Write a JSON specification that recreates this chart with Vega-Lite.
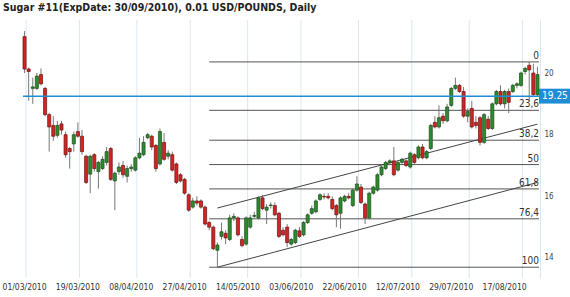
{
  "$schema": "https://vega.github.io/schema/vega-lite/v6.json",
  "width": 518,
  "height": 258,
  "autosize": {"type": "none"},
  "padding": {"left": 22, "top": 20, "right": 30, "bottom": 19},
  "background": "white",
  "title": {"text": "Sugar #11(ExpDate: 30/09/2010), 0.01 USD/POUNDS, Daily", "anchor": "start", "frame": "group", "font": "DejaVu Sans Condensed", "fontSize": 10.5, "fontWeight": "bold", "color": "#222222", "baseline": "alphabetic", "offset": 8, "dx": -19, "dy": 9.5},
  "config": {"view": {"stroke": null}},
  "datasets": {
    "candles": [
      {"d":"01/03/2010","o":21.18,"h":21.36,"l":20.0,"c":20.13},
      {"d":"02/03/2010","o":20.13,"h":20.18,"l":19.1,"c":20.05},
      {"d":"03/03/2010","o":19.5,"h":19.85,"l":19.0,"c":19.55},
      {"d":"04/03/2010","o":19.5,"h":20.0,"l":19.45,"c":19.9},
      {"d":"05/03/2010","o":19.95,"h":20.15,"l":19.6,"c":19.65},
      {"d":"09/03/2010","o":19.5,"h":19.55,"l":18.6,"c":18.65},
      {"d":"10/03/2010","o":18.65,"h":18.7,"l":17.45,"c":18.25},
      {"d":"11/03/2010","o":18.3,"h":18.6,"l":17.8,"c":17.95},
      {"d":"12/03/2010","o":17.98,"h":18.45,"l":17.9,"c":18.3},
      {"d":"15/03/2010","o":18.35,"h":18.45,"l":18.0,"c":18.15},
      {"d":"16/03/2010","o":18.0,"h":18.1,"l":17.25,"c":17.35},
      {"d":"17/03/2010","o":17.55,"h":17.6,"l":16.9,"c":17.45},
      {"d":"18/03/2010","o":17.7,"h":18.1,"l":17.45,"c":18.0},
      {"d":"19/03/2010","o":18.1,"h":18.4,"l":17.9,"c":17.95},
      {"d":"22/03/2010","o":17.95,"h":18.15,"l":17.35,"c":17.45},
      {"d":"23/03/2010","o":17.3,"h":17.35,"l":16.4,"c":16.45},
      {"d":"24/03/2010","o":16.72,"h":17.35,"l":16.1,"c":17.3},
      {"d":"25/03/2010","o":17.35,"h":17.4,"l":16.8,"c":16.9},
      {"d":"26/03/2010","o":16.8,"h":17.15,"l":16.25,"c":17.1},
      {"d":"29/03/2010","o":16.9,"h":17.3,"l":16.85,"c":17.2},
      {"d":"30/03/2010","o":17.1,"h":17.6,"l":17.0,"c":17.45},
      {"d":"31/03/2010","o":17.55,"h":17.6,"l":16.5,"c":16.55},
      {"d":"01/04/2010","o":16.5,"h":16.8,"l":15.55,"c":16.75},
      {"d":"05/04/2010","o":16.8,"h":17.1,"l":16.7,"c":16.95},
      {"d":"06/04/2010","o":17.0,"h":17.15,"l":16.6,"c":16.7},
      {"d":"07/04/2010","o":16.65,"h":17.0,"l":16.45,"c":16.9},
      {"d":"08/04/2010","o":16.9,"h":17.05,"l":16.8,"c":16.95},
      {"d":"09/04/2010","o":16.85,"h":17.3,"l":16.8,"c":17.25},
      {"d":"12/04/2010","o":17.25,"h":17.9,"l":17.2,"c":17.4},
      {"d":"13/04/2010","o":17.35,"h":17.95,"l":17.3,"c":17.75},
      {"d":"14/04/2010","o":17.9,"h":18.05,"l":17.85,"c":18.0},
      {"d":"15/04/2010","o":17.95,"h":18.0,"l":17.5,"c":17.6},
      {"d":"16/04/2010","o":17.65,"h":17.7,"l":16.8,"c":16.9},
      {"d":"19/04/2010","o":17.05,"h":18.2,"l":17.0,"c":18.1},
      {"d":"20/04/2010","o":17.75,"h":18.05,"l":17.15,"c":17.2},
      {"d":"21/04/2010","o":17.3,"h":17.5,"l":17.2,"c":17.4},
      {"d":"22/04/2010","o":17.35,"h":17.45,"l":16.8,"c":16.85},
      {"d":"23/04/2010","o":17.05,"h":17.1,"l":16.4,"c":16.45},
      {"d":"26/04/2010","o":16.7,"h":16.75,"l":16.45,"c":16.5},
      {"d":"27/04/2010","o":16.55,"h":16.6,"l":16.05,"c":16.1},
      {"d":"28/04/2010","o":16.05,"h":16.1,"l":15.5,"c":15.55},
      {"d":"29/04/2010","o":15.65,"h":15.95,"l":15.6,"c":15.85},
      {"d":"30/04/2010","o":15.85,"h":16.0,"l":15.7,"c":15.78},
      {"d":"03/05/2010","o":15.85,"h":15.9,"l":15.6,"c":15.65},
      {"d":"04/05/2010","o":15.65,"h":15.7,"l":15.05,"c":15.1},
      {"d":"05/05/2010","o":15.15,"h":15.2,"l":14.9,"c":15.0},
      {"d":"06/05/2010","o":15.0,"h":15.05,"l":14.25,"c":14.3},
      {"d":"07/05/2010","o":14.25,"h":14.5,"l":13.7,"c":14.42},
      {"d":"10/05/2010","o":14.7,"h":15.15,"l":14.6,"c":14.85},
      {"d":"11/05/2010","o":14.8,"h":14.9,"l":14.45,"c":14.65},
      {"d":"12/05/2010","o":14.6,"h":15.4,"l":14.55,"c":15.3},
      {"d":"13/05/2010","o":15.3,"h":15.45,"l":15.2,"c":15.35},
      {"d":"14/05/2010","o":15.3,"h":15.35,"l":14.7,"c":14.75},
      {"d":"17/05/2010","o":14.6,"h":14.7,"l":14.35,"c":14.4},
      {"d":"18/05/2010","o":14.45,"h":15.35,"l":14.4,"c":15.3},
      {"d":"19/05/2010","o":15.0,"h":15.4,"l":14.95,"c":15.3},
      {"d":"20/05/2010","o":15.35,"h":15.5,"l":15.3,"c":15.38},
      {"d":"21/05/2010","o":15.3,"h":16.0,"l":15.25,"c":15.95},
      {"d":"24/05/2010","o":15.95,"h":16.05,"l":15.55,"c":15.6},
      {"d":"25/05/2010","o":15.55,"h":15.75,"l":15.1,"c":15.65},
      {"d":"26/05/2010","o":15.7,"h":15.8,"l":15.6,"c":15.72},
      {"d":"27/05/2010","o":15.7,"h":15.8,"l":15.35,"c":15.4},
      {"d":"28/05/2010","o":15.45,"h":15.5,"l":14.65,"c":14.7},
      {"d":"01/06/2010","o":14.9,"h":15.0,"l":14.7,"c":14.75},
      {"d":"02/06/2010","o":15.0,"h":15.1,"l":14.35,"c":14.5},
      {"d":"03/06/2010","o":14.45,"h":14.65,"l":14.4,"c":14.6},
      {"d":"04/06/2010","o":14.5,"h":14.95,"l":14.45,"c":14.9},
      {"d":"07/06/2010","o":14.88,"h":15.0,"l":14.65,"c":14.7},
      {"d":"08/06/2010","o":14.75,"h":15.2,"l":14.7,"c":15.15},
      {"d":"09/06/2010","o":15.15,"h":15.45,"l":15.1,"c":15.4},
      {"d":"10/06/2010","o":15.45,"h":15.7,"l":15.4,"c":15.6},
      {"d":"11/06/2010","o":15.5,"h":15.9,"l":15.45,"c":15.85},
      {"d":"14/06/2010","o":15.9,"h":16.1,"l":15.85,"c":16.05},
      {"d":"15/06/2010","o":16.0,"h":16.1,"l":15.9,"c":15.98},
      {"d":"16/06/2010","o":16.0,"h":16.1,"l":15.9,"c":15.95},
      {"d":"17/06/2010","o":15.9,"h":16.0,"l":15.55,"c":15.6},
      {"d":"18/06/2010","o":15.7,"h":15.75,"l":15.0,"c":15.4},
      {"d":"21/06/2010","o":15.45,"h":16.0,"l":14.95,"c":15.95},
      {"d":"22/06/2010","o":15.85,"h":16.05,"l":15.8,"c":16.0},
      {"d":"23/06/2010","o":16.0,"h":16.1,"l":15.9,"c":15.95},
      {"d":"24/06/2010","o":15.7,"h":16.25,"l":15.65,"c":16.2},
      {"d":"25/06/2010","o":16.2,"h":16.65,"l":16.15,"c":16.4},
      {"d":"28/06/2010","o":16.3,"h":16.4,"l":15.75,"c":15.8},
      {"d":"29/06/2010","o":15.75,"h":15.8,"l":15.1,"c":15.3},
      {"d":"30/06/2010","o":15.3,"h":16.15,"l":15.25,"c":16.1},
      {"d":"01/07/2010","o":16.1,"h":16.35,"l":16.05,"c":16.3},
      {"d":"02/07/2010","o":16.2,"h":16.75,"l":16.15,"c":16.7},
      {"d":"06/07/2010","o":16.7,"h":17.0,"l":16.65,"c":16.95},
      {"d":"07/07/2010","o":16.9,"h":17.15,"l":16.85,"c":17.1},
      {"d":"08/07/2010","o":17.1,"h":17.2,"l":17.05,"c":17.15},
      {"d":"09/07/2010","o":17.15,"h":17.6,"l":16.65,"c":16.7},
      {"d":"12/07/2010","o":16.85,"h":17.15,"l":16.8,"c":17.1},
      {"d":"13/07/2010","o":17.1,"h":17.25,"l":17.05,"c":17.2},
      {"d":"14/07/2010","o":17.15,"h":17.2,"l":16.95,"c":17.0},
      {"d":"15/07/2010","o":16.95,"h":17.45,"l":16.9,"c":17.4},
      {"d":"16/07/2010","o":17.35,"h":17.4,"l":17.05,"c":17.1},
      {"d":"19/07/2010","o":17.25,"h":17.65,"l":17.2,"c":17.6},
      {"d":"20/07/2010","o":17.6,"h":17.7,"l":17.2,"c":17.25},
      {"d":"21/07/2010","o":17.25,"h":17.5,"l":17.2,"c":17.45},
      {"d":"22/07/2010","o":17.55,"h":18.35,"l":17.5,"c":18.3},
      {"d":"23/07/2010","o":18.4,"h":18.6,"l":18.2,"c":18.25},
      {"d":"26/07/2010","o":18.25,"h":18.95,"l":18.2,"c":18.55},
      {"d":"27/07/2010","o":18.6,"h":18.7,"l":18.35,"c":18.45},
      {"d":"28/07/2010","o":18.45,"h":19.0,"l":18.4,"c":18.9},
      {"d":"29/07/2010","o":18.95,"h":19.55,"l":18.9,"c":19.5},
      {"d":"30/07/2010","o":19.5,"h":19.85,"l":19.45,"c":19.6},
      {"d":"02/08/2010","o":19.6,"h":19.65,"l":19.35,"c":19.4},
      {"d":"03/08/2010","o":19.4,"h":19.55,"l":18.55,"c":18.6},
      {"d":"04/08/2010","o":18.6,"h":18.85,"l":18.4,"c":18.75},
      {"d":"05/08/2010","o":18.85,"h":19.1,"l":18.2,"c":18.25},
      {"d":"06/08/2010","o":18.4,"h":18.6,"l":18.2,"c":18.3},
      {"d":"09/08/2010","o":18.55,"h":18.6,"l":17.65,"c":17.75},
      {"d":"10/08/2010","o":17.75,"h":18.7,"l":17.7,"c":18.65},
      {"d":"11/08/2010","o":18.5,"h":18.6,"l":18.15,"c":18.2},
      {"d":"12/08/2010","o":18.2,"h":19.05,"l":18.15,"c":19.0},
      {"d":"13/08/2010","o":19.0,"h":19.45,"l":18.95,"c":19.4},
      {"d":"16/08/2010","o":19.4,"h":19.6,"l":18.95,"c":19.0},
      {"d":"17/08/2010","o":19.0,"h":19.45,"l":18.85,"c":19.4},
      {"d":"18/08/2010","o":19.4,"h":19.5,"l":18.7,"c":19.05},
      {"d":"19/08/2010","o":19.4,"h":19.65,"l":19.35,"c":19.6},
      {"d":"20/08/2010","o":19.6,"h":19.7,"l":19.5,"c":19.65},
      {"d":"23/08/2010","o":19.6,"h":20.05,"l":19.55,"c":20.0},
      {"d":"24/08/2010","o":20.05,"h":20.2,"l":19.95,"c":20.15},
      {"d":"25/08/2010","o":20.25,"h":20.36,"l":19.1,"c":20.1},
      {"d":"26/08/2010","o":20.0,"h":20.3,"l":19.25,"c":19.3},
      {"d":"27/08/2010","o":19.3,"h":20.2,"l":19.25,"c":19.95}
    ],
    "grid": [
      {"d":"01/03/2010"},{"d":"19/03/2010"},{"d":"09/04/2010"},{"d":"28/04/2010"},{"d":"18/05/2010"},
      {"d":"07/06/2010"},{"d":"25/06/2010"},{"d":"15/07/2010"},{"d":"04/08/2010"},{"d":"23/08/2010"}
    ],
    "fib": [
      {"lv":"0","p":20.36,"d":"05/05/2010","d2":"27/08/2010"},
      {"lv":"23,6","p":18.79,"d":"05/05/2010","d2":"27/08/2010"},
      {"lv":"38,2","p":17.82,"d":"05/05/2010","d2":"27/08/2010"},
      {"lv":"50","p":17.03,"d":"05/05/2010","d2":"27/08/2010"},
      {"lv":"61,8","p":16.24,"d":"05/05/2010","d2":"27/08/2010"},
      {"lv":"76,4","p":15.27,"d":"05/05/2010","d2":"27/08/2010"},
      {"lv":"100","p":13.70,"d":"05/05/2010","d2":"27/08/2010"}
    ],
    "trend": [
      {"g":"up","d":"07/05/2010","p":15.62},
      {"g":"up","d":"27/08/2010","p":18.34},
      {"g":"lo","d":"07/05/2010","p":13.70},
      {"g":"lo","d":"27/08/2010","p":16.45}
    ],
    "last": [
      {"d":"01/03/2010","d2":"27/08/2010","p":19.25,"t":"19.25"}
    ]
  },
  "layer": [
    {
      "data": {"name": "grid"},
      "mark": {"type": "rule", "color": "#dce7f0", "strokeWidth": 1},
      "encoding": {
        "x": {
          "field": "d", "type": "ordinal", "bandPosition": 1,
          "scale": {
            "type": "band",
            "domain": ["01/03/2010","02/03/2010","03/03/2010","04/03/2010","05/03/2010","09/03/2010","10/03/2010","11/03/2010","12/03/2010","15/03/2010","16/03/2010","17/03/2010","18/03/2010","19/03/2010","22/03/2010","23/03/2010","24/03/2010","25/03/2010","26/03/2010","29/03/2010","30/03/2010","31/03/2010","01/04/2010","05/04/2010","06/04/2010","07/04/2010","08/04/2010","09/04/2010","12/04/2010","13/04/2010","14/04/2010","15/04/2010","16/04/2010","19/04/2010","20/04/2010","21/04/2010","22/04/2010","23/04/2010","26/04/2010","27/04/2010","28/04/2010","29/04/2010","30/04/2010","03/05/2010","04/05/2010","05/05/2010","06/05/2010","07/05/2010","10/05/2010","11/05/2010","12/05/2010","13/05/2010","14/05/2010","17/05/2010","18/05/2010","19/05/2010","20/05/2010","21/05/2010","24/05/2010","25/05/2010","26/05/2010","27/05/2010","28/05/2010","01/06/2010","02/06/2010","03/06/2010","04/06/2010","07/06/2010","08/06/2010","09/06/2010","10/06/2010","11/06/2010","14/06/2010","15/06/2010","16/06/2010","17/06/2010","18/06/2010","21/06/2010","22/06/2010","23/06/2010","24/06/2010","25/06/2010","28/06/2010","29/06/2010","30/06/2010","01/07/2010","02/07/2010","06/07/2010","07/07/2010","08/07/2010","09/07/2010","12/07/2010","13/07/2010","14/07/2010","15/07/2010","16/07/2010","19/07/2010","20/07/2010","21/07/2010","22/07/2010","23/07/2010","26/07/2010","27/07/2010","28/07/2010","29/07/2010","30/07/2010","02/08/2010","03/08/2010","04/08/2010","05/08/2010","06/08/2010","09/08/2010","10/08/2010","11/08/2010","12/08/2010","13/08/2010","16/08/2010","17/08/2010","18/08/2010","19/08/2010","20/08/2010","23/08/2010","24/08/2010","25/08/2010","26/08/2010","27/08/2010"],
            "paddingInner": 0.25,
            "paddingOuter": 0.25
          },
          "axis": {
            "title": null,
            "values": ["01/03/2010","19/03/2010","08/04/2010","27/04/2010","14/05/2010","03/06/2010","22/06/2010","12/07/2010","29/07/2010","17/08/2010"],
            "ticks": false, "domain": false, "grid": false,
            "labelAngle": 0, "labelOverlap": false,
            "labelFont": "DejaVu Sans Condensed", "labelFontSize": 8.5, "labelColor": "#333333", "labelPadding": 4
          }
        }
      }
    },
    {
      "data": {"name": "fib"},
      "mark": {"type": "rule", "color": "#555555", "strokeWidth": 1},
      "encoding": {
        "x": {"field": "d", "type": "ordinal"},
        "x2": {"field": "d2", "bandPosition": 1},
        "y": {
          "field": "p", "type": "quantitative",
          "scale": {"domain": [13.35, 21.72], "nice": false, "zero": false},
          "axis": {
            "title": null, "orient": "right", "values": [14, 16, 18, 20],
            "ticks": false, "grid": false, "domain": true, "domainColor": "#dfe7ee",
            "labelFont": "DejaVu Sans Condensed", "labelFontSize": 8, "labelColor": "#444444", "labelPadding": 4
          }
        }
      }
    },
    {
      "data": {"name": "trend"},
      "mark": {"type": "line", "color": "#444444", "strokeWidth": 1},
      "encoding": {
        "x": {"field": "d", "type": "ordinal"},
        "y": {"field": "p", "type": "quantitative"},
        "detail": {"field": "g"}
      }
    },
    {
      "data": {"name": "candles"},
      "mark": {"type": "rule", "color": "#777777", "strokeWidth": 1},
      "encoding": {
        "x": {"field": "d", "type": "ordinal"},
        "y": {"field": "l", "type": "quantitative"},
        "y2": {"field": "h"}
      }
    },
    {
      "data": {"name": "candles"},
      "mark": {"type": "bar", "strokeWidth": 0.7},
      "encoding": {
        "x": {"field": "d", "type": "ordinal"},
        "y": {"field": "o", "type": "quantitative"},
        "y2": {"field": "c"},
        "fill": {"condition": {"test": "datum.c >= datum.o", "value": "#2e8b2e"}, "value": "#d42424"},
        "stroke": {"condition": {"test": "datum.c >= datum.o", "value": "#184a18"}, "value": "#6a1010"}
      }
    },
    {
      "data": {"name": "last"},
      "mark": {"type": "rule", "color": "#1f8dd6", "strokeWidth": 1.5},
      "encoding": {
        "x": {"field": "d", "type": "ordinal", "bandPosition": 0},
        "x2": {"field": "d2", "bandPosition": 1},
        "y": {"field": "p", "type": "quantitative"}
      }
    },
    {
      "data": {"name": "fib"},
      "mark": {"type": "text", "align": "right", "baseline": "bottom", "dy": -1, "font": "DejaVu Sans Condensed", "fontSize": 10, "color": "#333333"},
      "encoding": {
        "x": {"field": "d2", "type": "ordinal", "bandPosition": 1},
        "y": {"field": "p", "type": "quantitative"},
        "text": {"field": "lv"}
      }
    },
    {
      "data": {"name": "last"},
      "mark": {"type": "point", "shape": "M0,-0.24H1V0.24H0Z", "size": 3844, "filled": true, "fill": "#1f8dd6", "opacity": 1, "strokeWidth": 0},
      "encoding": {
        "x": {"field": "d2", "type": "ordinal", "bandPosition": 1},
        "y": {"field": "p", "type": "quantitative"}
      }
    },
    {
      "data": {"name": "last"},
      "mark": {"type": "text", "align": "center", "baseline": "middle", "dx": 16, "font": "DejaVu Sans Condensed", "fontSize": 10, "color": "white"},
      "encoding": {
        "x": {"field": "d2", "type": "ordinal", "bandPosition": 1},
        "y": {"field": "p", "type": "quantitative"},
        "text": {"field": "t"}
      }
    }
  ]
}
